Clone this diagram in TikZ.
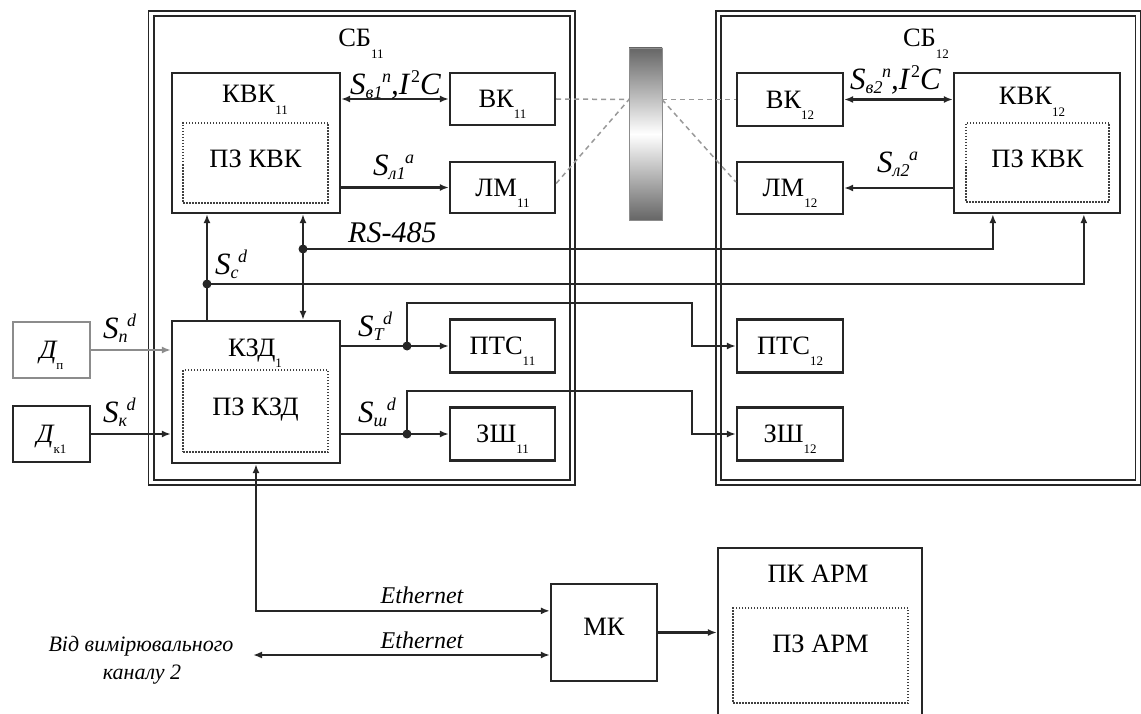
\documentclass[tikz,border=0pt]{standalone}
\usepackage{fontspec}
\setmainfont{Liberation Serif}
\usetikzlibrary{arrows.meta,calc}
\newcommand\fs[1]{\fontsize{#1}{#1}\selectfont}
\newcommand\lo[1]{\raisebox{-0.42em}{\fs{13}#1}}
\newcommand\sig[2]{{\fs{31}\itshape S\raisebox{-4pt}{\fs{18}#1}\kern-0.5pt\raisebox{12pt}{\fs{18}#2}}}
\newcommand\icc{{\fs{31}\itshape ,I\kern2pt\raisebox{12pt}{\fs{18}\upshape 2}C}}
\begin{document}
\begin{tikzpicture}[x=1pt,y=-1pt,
  ink/.style={draw=black!85,line width=2.3pt},
  box/.style={ink,rectangle,inner sep=0pt,font=\fs{26.5},text height=17.5pt,text depth=0pt},
  frame/.style={draw=black!85,line width=1.9pt,double=white,double distance=3.2pt,rectangle,inner sep=0pt},
  dotbox/.style={draw=black!75,line width=2pt,dash pattern=on 1.5pt off 1.5pt,rectangle,inner sep=0pt,font=\fs{26.5},text height=17.5pt,text depth=8pt},
  title/.style={anchor=base,inner sep=0pt,font=\fs{26.5}},
  >={Latex[length=9pt,width=7pt]},
  wire/.style={draw=black!85,line width=2.2pt},
  arr/.style={wire,->},
  darr/.style={wire,<->},
  jn/.style={circle,fill=black!85,inner sep=0pt,minimum size=9pt},
  ray/.style={draw=black!40,line width=1.5pt,dash pattern=on 5pt off 4pt},
  lab/.style={anchor=base west,inner sep=0pt},
  ital/.style={anchor=base,inner sep=0pt,font=\fs{24}\itshape},
]
\useasboundingbox (0,0) rectangle (1141,714);

% frames
\node[frame,minimum width=421.75pt,minimum height=468.5pt] (SB11) at (361.9,248) {};
\node[frame,minimum width=419.5pt,minimum height=468.5pt] (SB12) at (928.25,248) {};
\node[title] (tSB11) at (361,47) {СБ\lo{11}};
\node[title] (tSB12) at (926,47) {СБ\lo{12}};

% disk
\node[rectangle,inner sep=0pt,minimum width=33pt,minimum height=172pt,top color=black!60,bottom color=black!60,middle color=white,draw=black!45,line width=0.4pt] (disk) at (645.5,134) {};
\coordinate (dl) at (629,99.5);
\coordinate (dr) at (662,99.5);

% SB11 contents
\node[box,minimum width=168pt,minimum height=140pt] (KVK11) at (256,143) {};
\node[title] (tKVK11) at (255,103) {КВК\lo{11}};
\node[dotbox,minimum width=145pt,minimum height=80pt] (PZ11) at (255.5,163) {ПЗ КВК};
\node[box,minimum width=105pt,minimum height=52pt] (VK11) at (502.5,99) {ВК\lo{11}};
\node[box,minimum width=105pt,minimum height=51pt] (LM11) at (502.5,187.5) {ЛМ\lo{11}};
\node[box,minimum width=168pt,minimum height=142pt] (KSD) at (256,392) {};
\node[title] (tKSD) at (255,356) {КЗД\lo{1}};
\node[dotbox,minimum width=145pt,minimum height=82pt] (PZKSD) at (255.5,411) {ПЗ КЗД};
\node[box,minimum width=105pt,minimum height=53pt] (PTS11) at (502.5,346) {ПТС\lo{11}};
\node[box,minimum width=105pt,minimum height=53pt] (ZS11) at (502.5,434) {ЗШ\lo{11}};

% SB12 contents
\node[box,minimum width=106pt,minimum height=53pt] (VK12) at (790,99.5) {ВК\lo{12}};
\node[box,minimum width=106pt,minimum height=52pt] (LM12) at (790,188) {ЛМ\lo{12}};
\node[box,minimum width=166pt,minimum height=140pt] (KVK12) at (1037,143) {};
\node[title] (tKVK12) at (1032,105) {КВК\lo{12}};
\node[dotbox,minimum width=143pt,minimum height=79pt] (PZ12) at (1037.5,162.5) {ПЗ КВК};
\node[box,minimum width=106pt,minimum height=53pt] (PTS12) at (790,346) {ПТС\lo{12}};
\node[box,minimum width=106pt,minimum height=53pt] (ZS12) at (790,434) {ЗШ\lo{12}};

% sensors
\node[box,draw=black!45,minimum width=77pt,minimum height=56pt] (Dp) at (51.5,350) {\itshape Д\lo{\upshape п}};
\node[box,minimum width=77pt,minimum height=56pt] (Dk) at (51.5,434) {\itshape Д\lo{\upshape к1}};

% bottom
\node[box,minimum width=106pt,minimum height=97pt,text depth=12pt] (MK) at (604,632.5) {МК};
\node[box,minimum width=204pt,minimum height=212pt] (PK) at (820,654) {};
\node[title] (tPK) at (818,582) {ПК АРМ};
\node[dotbox,minimum width=175pt,minimum height=95pt,text depth=23.5pt] (PZPK) at (820.5,655.5) {ПЗ АРМ};

% optical rays
\draw[ray] (VK11.east) -- (dl);
\draw[ray] ($(LM11.east)+(0,-4)$) -- (dl);
\draw[ray] (dr) -- (VK12.west);
\draw[ray] (dr) -- ($(LM12.west)+(0,-6)$);

% wires in SB11/SB12
\draw[darr] (VK11.west -| KVK11.east) -- (VK11.west);
\draw[arr] (LM11.west -| KVK11.east) -- (LM11.west);
\draw[darr] (VK12.east) -- (VK12.east -| KVK12.west);
\draw[arr] (LM12.east -| KVK12.west) -- (LM12.east);

\node[jn] (j1) at (207,284) {};
\node[jn] (j2) at (303,249) {};
\draw[arr] (j1 |- KSD.north) -- (j1 |- KVK11.south);
\draw[darr] (j2 |- KVK11.south) -- (j2 |- KSD.north);
\draw[arr] (j1.center) -| ($(KVK12.south west)+(131,0)$);
\draw[arr] (j2.center) -| ($(KVK12.south west)+(40,0)$);

\draw[arr,draw=black!45] (Dp.east) -- (Dp.east -| KSD.west);
\draw[arr] (Dk.east) -- (Dk.east -| KSD.west);

\node[jn] (j3) at (407,346) {};
\node[jn] (j4) at (407,434) {};
\draw[arr] (PTS11.west -| KSD.east) -- (PTS11.west);
\draw[arr] (ZS11.west -| KSD.east) -- (ZS11.west);
\coordinate (b1) at (692,303);
\coordinate (b2) at (692,391);
\draw[arr] (j3.center) |- (b1) |- (PTS12.west);
\draw[arr] (j4.center) |- (b2) |- (ZS12.west);

% ethernet
\draw[darr] (KSD.south) |- ($(MK.north west)+(0,28)$);
\coordinate (src) at (253,655);
\draw[darr] (src) -- (src -| MK.west);
\draw[arr] (MK.east) -- (MK.east -| PK.west);

% labels
\node[lab] (lS1) at (350,95) {\sig{в1}{п}\icc};
\node[lab] (lS2) at (373,176) {\sig{л1}{a}};
\node[lab,font=\fs{30}\itshape] (lRS) at (348,243) {RS-485};
\node[lab] (lSc) at (215,275) {\sig{c}{d}};
\node[lab] (lSn) at (103,338) {\sig{п}{d}};
\node[lab] (lSk) at (103,422) {\sig{к}{d}};
\node[lab] (lST) at (358,336) {\sig{T}{d}};
\node[lab] (lSsh) at (358,422) {\sig{ш}{d}};
\node[lab] (lS3) at (850,90) {\sig{в2}{п}\icc};
\node[lab] (lS4) at (877,173) {\sig{л2}{a}};
\node[ital] (le1) at (422,603) {Ethernet};
\node[ital] (le2) at (422,648) {Ethernet};
\node[ital,font=\fs{22}\itshape] (lsrc1) at (141,651) {Від вимірювального};
\node[ital,font=\fs{22}\itshape] (lsrc2) at (142,679) {каналу 2};
\end{tikzpicture}
\end{document}
